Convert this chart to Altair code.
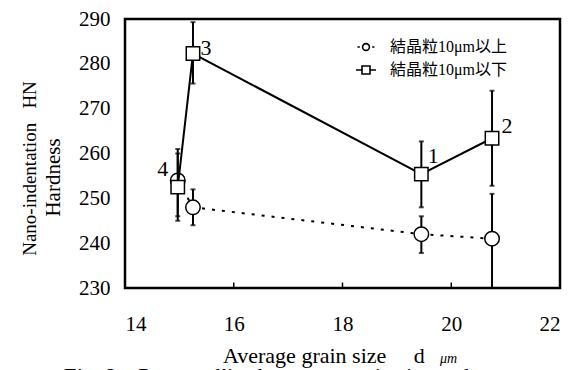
import altair as alt
import pandas as pd

# ---- data ----
legend_labels = ["結晶粒10μm以上", "結晶粒10μm以下"]

above_x = [14.97, 15.25, 19.45, 20.75]
above_y = [254.0, 248.0, 242.0, 241.0]
above_lo = [246.0, 244.0, 237.8, 230.0]
above_hi = [260.0, 252.0, 246.0, 251.0]

below_x = [14.97, 15.25, 19.45, 20.75]
below_y = [252.5, 282.3, 255.4, 263.4]
below_lo = [245.0, 275.6, 248.0, 252.8]
below_hi = [261.0, 289.3, 262.7, 274.0]
below_lab = ["4", "3", "1", "2"]

x_ticks = [14, 16, 18, 20, 22]
y_ticks = [230, 240, 250, 260, 270, 280, 290]
inner_ticks = [16, 18, 20]

NB = "\u00a0"
y_title_1 = "Nano-indentation" + NB * 3 + "HN"
y_title_2 = "Hardness"
x_title = "Average grain size" + NB * 5 + "d"
x_title_unit = "μm"
caption = "Fig. 8" + NB * 4 + "Recrystallized average grain size and"

FONT = "Liberation Serif"
CJK = "Liberation Serif, Noto Sans CJK JP"

above = pd.DataFrame({"x": above_x, "y": above_y, "lo": above_lo, "hi": above_hi})
below = pd.DataFrame({"x": below_x, "y": below_y, "lo": below_lo, "hi": below_hi, "lab": below_lab})

xs = alt.Scale(domain=[14, 22], nice=False, zero=False)
ys = alt.Scale(domain=[230, 290], nice=False, zero=False)

X = alt.X("x:Q", scale=xs, axis=alt.Axis(values=x_ticks, title=None, labelFont=FONT, labelFontSize=21,
                                          labelColor="black", labelPadding=25, grid=False,
                                          ticks=False, domain=False))
Y = alt.Y("y:Q", scale=ys, axis=alt.Axis(values=y_ticks, title=None, labelFont=FONT, labelFontSize=21,
                                          labelColor="black", labelPadding=15,
                                          grid=False, ticks=False, domain=False))


def errbars(df):
    base = alt.Chart(df)
    rule = base.mark_rule(color="black", strokeWidth=2).encode(
        x=alt.X("x:Q", scale=xs), y=alt.Y("lo:Q", scale=ys), y2="hi:Q")
    cap_lo = base.mark_tick(color="black", orient="horizontal", size=5, thickness=2).encode(
        x=alt.X("x:Q", scale=xs), y=alt.Y("lo:Q", scale=ys))
    cap_hi = base.mark_tick(color="black", orient="horizontal", size=5, thickness=2).encode(
        x=alt.X("x:Q", scale=xs), y=alt.Y("hi:Q", scale=ys))
    return [rule, cap_lo, cap_hi]


above_line = alt.Chart(above).mark_line(color="black", strokeWidth=2, strokeDash=[3, 7]).encode(
    x=X, y=Y, order="x:Q")
above_pts = alt.Chart(above).mark_point(shape="circle", size=210, filled=True, fill="white",
                                        stroke="black", strokeWidth=1.5, opacity=1).encode(x=X, y=Y)

below_line = alt.Chart(below).mark_line(color="black", strokeWidth=2).encode(
    x=X, y=Y, order="x:Q")
below_pts = alt.Chart(below).mark_point(shape="square", size=180, filled=True, fill="white",
                                        stroke="black", strokeWidth=1.5, opacity=1).encode(x=X, y=Y)

label_offsets = {"4": (-15, -18), "3": (13, -6), "1": (12, -18), "2": (15, -12)}
label_layers = []
for lab, (dx, dy) in label_offsets.items():
    label_layers.append(
        alt.Chart(below).transform_filter(alt.datum.lab == lab).mark_text(
            font=FONT, fontSize=22, color="black", dx=dx, dy=dy).encode(
            x=alt.X("x:Q", scale=xs), y=alt.Y("y:Q", scale=ys), text="lab:N"))

tick_df = pd.DataFrame({"x": inner_ticks, "y0": [230] * len(inner_ticks), "y1": [231.2] * len(inner_ticks)})
inner = alt.Chart(tick_df).mark_rule(color="black", strokeWidth=1.5).encode(
    x=alt.X("x:Q", scale=xs), y=alt.Y("y0:Q", scale=ys), y2="y1:Q")

circle_path = "M0.34,0A0.34,0.34 0 1,1 -0.34,0A0.34,0.34 0 1,1 0.34,0Z M-0.85,0H-0.62 M0.62,0H0.85"
square_path = "M-1,0H-0.4 M0.4,0H1 M-0.4,-0.4H0.4V0.4H-0.4Z"

leg_df = pd.DataFrame({"series": legend_labels})
legend_layer = alt.Chart(leg_df).mark_point(opacity=0, size=400).encode(
    x=alt.value(0), y=alt.value(0),
    shape=alt.Shape("series:N", scale=alt.Scale(domain=legend_labels, range=[circle_path, square_path]),
                    legend=alt.Legend(title=None, orient="none", legendX=230, legendY=17,
                                      labelFont=CJK, labelFontSize=16, labelColor="black",
                                      symbolSize=400, symbolStrokeColor="black",
                                      symbolFillColor="white", symbolStrokeWidth=1.6,
                                      symbolOpacity=1, labelOffset=13, rowPadding=4, padding=0)))


def free_text(txt, x, y, size=22, angle=0, align="center", baseline="middle", style="normal"):
    return alt.Chart(pd.DataFrame({"t": [txt]})).mark_text(
        font=FONT, fontSize=size, angle=angle, color="black", align=align, baseline=baseline,
        fontStyle=style).encode(x=alt.value(x), y=alt.value(y), text="t:N")


# positions relative to the plot area's top-left corner (page x=125, y=19)
ytitle1 = free_text(y_title_1, -95, 149.5, size=19, angle=270)
ytitle2 = free_text(y_title_2, -71, 158.5, size=21, angle=270)
xtitle = free_text(x_title, 98, 344, align="left", baseline="alphabetic")
xunit = free_text(x_title_unit, 315, 344, size=14, align="left", baseline="alphabetic", style="italic")
cap = free_text(caption, -63, 364, align="left", baseline="alphabetic", style="italic")

layers = errbars(above) + [above_line, above_pts] + errbars(below) + [below_line, below_pts] \
    + label_layers + [inner, legend_layer, ytitle1, ytitle2, xtitle, xunit, cap]

chart = alt.layer(*layers).properties(
    width=435, height=269,
    autosize=alt.AutoSizeParams(type="none"),
    padding={"left": 117, "top": 11, "right": 15, "bottom": 100},
    background="white",
).configure_view(stroke="black", strokeWidth=2.5)

chart.save("out.html", embed_options={"renderer": "svg", "actions": False})
